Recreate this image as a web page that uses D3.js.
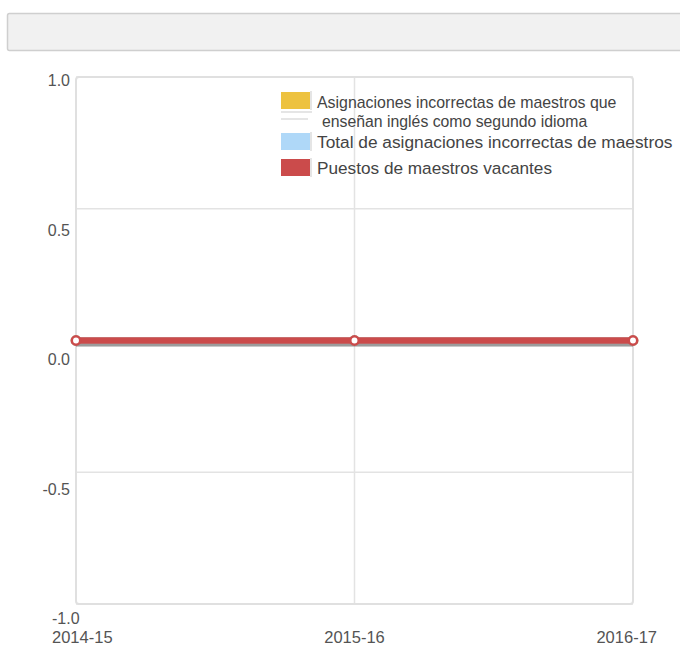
<!DOCTYPE html>
<html><head><meta charset="utf-8">
<script src="https://cdn.jsdelivr.net/npm/d3@7"></script>
<style>body{margin:0;background:#fff;}svg{display:block;font-family:"Liberation Sans",Arial,sans-serif;}</style>
</head><body>
<svg id="c" width="680" height="646"></svg>
<script>
const years = ["2014-15", "2015-16", "2016-17"];
const ellMisassign = [0, 0, 0];
const totalMisassign = [0, 0, 0];
const vacancies = [0, 0, 0];
const yTicks = [-1, -0.5, 0, 0.5, 1];
const seriesNames = ["Asignaciones incorrectas de maestros que", "Total de asignaciones incorrectas de maestros", "Puestos de maestros vacantes"];
const seriesColors = ["#edc240", "#afd8f8", "#cb4b4b"];

const svg = d3.select("#c");
// header bar
svg.append("rect").attr("x", 7.5).attr("y", 13.5).attr("width", 690).attr("height", 37)
  .attr("rx", 2).attr("fill", "#f1f1f1").attr("stroke", "#cfcfcf").attr("stroke-width", 1.5);

const L = 76, R = 633, T = 77, B = 604;
const x = d3.scalePoint().domain(years).range([L, R]);
const y = d3.scaleLinear().domain([-1, 1]).range([B, T]);
const yLab = d3.scaleLinear().domain([-1, 1]).range([624, 106]);
const fmt = v => d3.format(".1f")(v).replace("\u2212", "-");

// gridlines
svg.append("g").selectAll("line").data(yTicks).join("line")
  .attr("x1", L).attr("x2", R).attr("y1", d => y(d)).attr("y2", d => y(d))
  .attr("stroke", "#e3e3e3").attr("stroke-width", 1.5);
svg.append("g").selectAll("line").data(years.slice(1, -1)).join("line")
  .attr("x1", d => x(d)).attr("x2", d => x(d)).attr("y1", T).attr("y2", B)
  .attr("stroke", "#e3e3e3").attr("stroke-width", 1.5);
svg.append("rect").attr("x", L).attr("y", T).attr("width", R - L).attr("height", B - T)
  .attr("rx", 3).attr("fill", "none").attr("stroke", "#e0e0e0").attr("stroke-width", 2);

// y labels
svg.append("g").selectAll("text").data(yTicks).join("text")
  .attr("x", d => d === -1 ? 52 : 70)
  .attr("text-anchor", d => d === -1 ? "start" : "end")
  .attr("y", d => d === 1 ? y(d) + 9 : yLab(d))
  .attr("font-size", 16).attr("fill", "#545454")
  .text(d => fmt(d));

// x labels
svg.append("g").selectAll("text").data(years).join("text")
  .attr("x", d => x(d)).attr("y", 643).attr("text-anchor", "middle")
  .attr("font-size", 16.5).attr("fill", "#545454").text(d => d)
  .each(function () {
    const w = this.getComputedTextLength();
    const cx = +this.getAttribute("x");
    let left = cx - w / 2;
    if (left < 52) left = 52;
    if (left + w > 657) left = 657 - w;
    this.setAttribute("x", left + w / 2);
  });

// lines
const line = d3.line().x((d, i) => x(years[i])).y(d => y(d));
const allSeries = [ellMisassign, totalMisassign, vacancies];
allSeries.forEach((s, k) => {
  svg.append("path").datum(s).attr("d", line).attr("fill", "none")
    .attr("stroke", "rgba(0,0,0,0.15)").attr("stroke-width", 6).attr("transform", "translate(0,3)");
  svg.append("path").datum(s).attr("d", line).attr("fill", "none")
    .attr("stroke", seriesColors[k]).attr("stroke-width", 6.5);
  svg.append("g").selectAll("circle").data(s).join("circle")
    .attr("cx", (d, i) => x(years[i])).attr("cy", d => y(d)).attr("r", 4.2)
    .attr("fill", "#fff").attr("stroke", seriesColors[k]).attr("stroke-width", 2.5);
});

// legend
const lg = svg.append("g");
const swY = [92, 133, 159];
seriesColors.forEach((c, k) => {
  lg.append("rect").attr("x", 281).attr("y", swY[k]).attr("width", 29).attr("height", 17).attr("fill", c);
  lg.append("line").attr("x1", 311).attr("x2", 311).attr("y1", swY[k] - 1).attr("y2", swY[k] + 18)
    .attr("stroke", "#ddd").attr("stroke-width", 1.5);
});
lg.append("line").attr("x1", 281).attr("x2", 312).attr("y1", 112).attr("y2", 112).attr("stroke", "#ddd").attr("stroke-width", 1.5);
lg.append("line").attr("x1", 281).attr("x2", 308).attr("y1", 119).attr("y2", 119).attr("stroke", "#ddd").attr("stroke-width", 1.5);
lg.append("text").attr("x", 317).attr("y", 108).attr("font-size", 15.9).attr("fill", "#444").text(seriesNames[0]);
lg.append("text").attr("x", 322).attr("y", 127).attr("font-size", 15.8).attr("fill", "#444").text("enseñan inglés como segundo idioma");
lg.append("text").attr("x", 317).attr("y", 148).attr("font-size", 17.3).attr("fill", "#444").text(seriesNames[1]);
lg.append("text").attr("x", 317).attr("y", 174).attr("font-size", 17.2).attr("fill", "#444").text(seriesNames[2]);
</script>
</body></html>
